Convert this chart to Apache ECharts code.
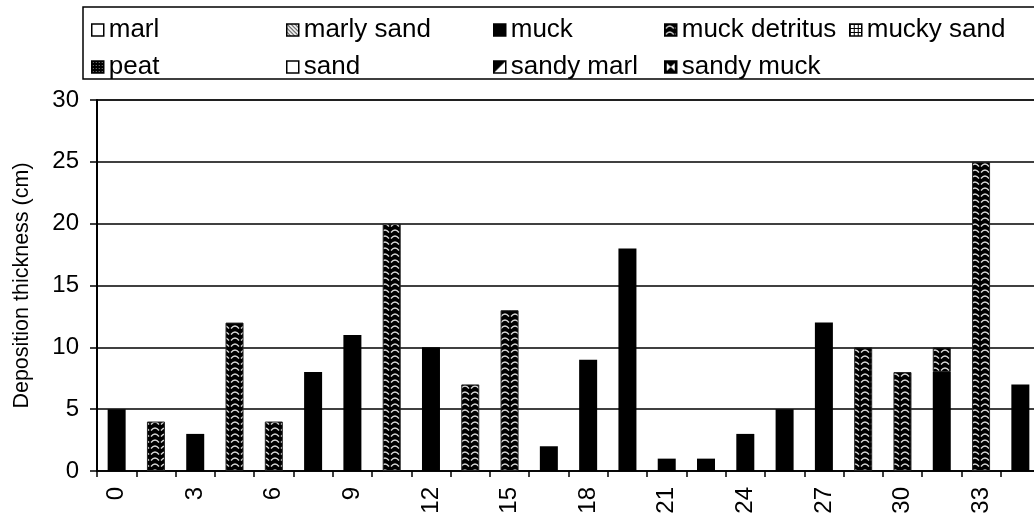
<!DOCTYPE html>
<html><head><meta charset="utf-8">
<script src="https://cdn.jsdelivr.net/npm/echarts@6/dist/echarts.min.js"></script>
<style>html,body{margin:0;padding:0;background:#fff}#c{width:1034px;height:519px}</style>
</head><body><div id="c"></div>
<script>
// ---- data ----
const categories = ['0','1.5','3','4.5','6','7.5','9','10.5','12','13.5','15','16.5','18','19.5','21','22.5','24','25.5','27','28.5','30','31.5','33','34.5'];
const seriesNames = ['marl','marly sand','muck','muck detritus','mucky sand','peat','sand','sandy marl','sandy muck'];
const muck =          [5,null,3,null,null,8,11,null,10,null,null,2,9,18,1,1,3,5,12,null,null,8,null,7];
const muckDetritus =  [null,4,null,12,4,null,null,20,null,7,13,null,null,null,null,null,null,null,null,10,8,2,25,null];
const yMin = 0, yMax = 30, yStep = 5;
const yTitle = 'Deposition thickness (cm)';
const legendColumns = [['marl','peat'],['marly sand','sand'],['muck','sandy marl'],['muck detritus','sandy muck'],['mucky sand']];

// ---- patterns ----
function pat(w,h,draw){const c=document.createElement('canvas');c.width=w;c.height=h;const g=c.getContext('2d');draw(g,w,h);return {image:c,repeat:'repeat'};}
const fills = {
  'marl': '#ffffff',
  'marly sand': pat(4,4,(g,w,h)=>{g.fillStyle='#fff';g.fillRect(0,0,w,h);g.strokeStyle='#555';g.lineWidth=1.2;g.beginPath();g.moveTo(0,0);g.lineTo(4,4);g.moveTo(-2,2);g.lineTo(2,6);g.moveTo(2,-2);g.lineTo(6,2);g.stroke();}),
  'muck': '#000000',
  'muck detritus': pat(10,6,(g,w,h)=>{g.fillStyle='#000';g.fillRect(0,0,w,h);g.strokeStyle='#d8d8d8';g.lineWidth=1.3;g.beginPath();g.moveTo(1,4.5);g.quadraticCurveTo(5,-0.5,9,4.5);g.stroke();}),
  'mucky sand': pat(4,4,(g,w,h)=>{g.fillStyle='#fff';g.fillRect(0,0,w,h);g.fillStyle='#000';g.fillRect(0,0,4,1);g.fillRect(0,0,1,4);}),
  'peat': pat(3,3,(g,w,h)=>{g.fillStyle='#000';g.fillRect(0,0,w,h);g.fillStyle='#888';g.fillRect(1,1,1,1);}),
  'sand': '#ffffff',
  'sandy marl': pat(12,12,(g,w,h)=>{g.fillStyle='#fff';g.fillRect(0,0,w,h);g.fillStyle='#000';g.beginPath();g.moveTo(0,0);g.lineTo(12,0);g.lineTo(0,12);g.closePath();g.fill();}),
  'sandy muck': pat(12,12,(g,w,h)=>{g.fillStyle='#000';g.fillRect(0,0,w,h);g.fillStyle='#fff';g.beginPath();g.moveTo(2,2);g.lineTo(6,6);g.lineTo(2,10);g.closePath();g.moveTo(10,2);g.lineTo(6,6);g.lineTo(10,10);g.closePath();g.fill();})
};
const dataByName = {'muck': muck, 'muck detritus': muckDetritus};

const FONT = 'Liberation Sans, Arial, sans-serif';
const legendLefts = [86, 281, 488, 659, 844];
const legends = legendColumns.map((col,i)=>({
  data: col, orient:'vertical', left: legendLefts[i], top: 11,
  icon:'rect', itemWidth: 12, itemHeight: 12, itemGap: 9,
  selectedMode: false,
  textStyle:{fontFamily:FONT,fontSize:26,color:'#000',lineHeight:28},
  itemStyle:{borderColor:'#000',borderWidth:1.5}
}));

const chart = echarts.init(document.getElementById('c'), null, {renderer:'canvas'});
chart.setOption({
  animation:false,
  backgroundColor:'#fff',
  legend: legends,
  graphic:[{type:'rect',shape:{x:83,y:7,width:1000,height:72},style:{fill:'none',stroke:'#000',lineWidth:1.5},z:-1}],
  grid:{left:97,top:100,width:943,height:371,outerBoundsMode:'none',containLabel:false,show:true,borderColor:'#808080',borderWidth:2,backgroundColor:'#fff'},
  xAxis:{type:'category',data:categories,
    axisLine:{lineStyle:{color:'#000',width:1.5}},
    axisTick:{show:true,interval:0,alignWithLabel:false,length:6,lineStyle:{color:'#000',width:1.5}},
    axisLabel:{interval:1,rotate:90,margin:16,fontFamily:FONT,fontSize:24,color:'#000'},
    splitLine:{show:false}},
  yAxis:{type:'value',min:yMin,max:yMax,interval:yStep,
    name:yTitle,nameLocation:'middle',nameGap:64,
    nameTextStyle:{fontFamily:FONT,fontSize:21.5,color:'#000'},
    axisLine:{show:true,lineStyle:{color:'#000',width:2}},
    axisTick:{show:true,inside:false,length:7,lineStyle:{color:'#000',width:1.5}},
    axisLabel:{margin:18,fontFamily:FONT,fontSize:24,color:'#000'},
    splitLine:{show:true,lineStyle:{color:'#000',width:1.5}}},
  series: seriesNames.map(n=>({
    name:n,type:'bar',stack:'all',barWidth:18,
    data: dataByName[n] || [],
    itemStyle:{color:fills[n],borderColor:'#222',borderWidth: n==='muck detritus'?1:0}
  }))
});
</script></body></html>
